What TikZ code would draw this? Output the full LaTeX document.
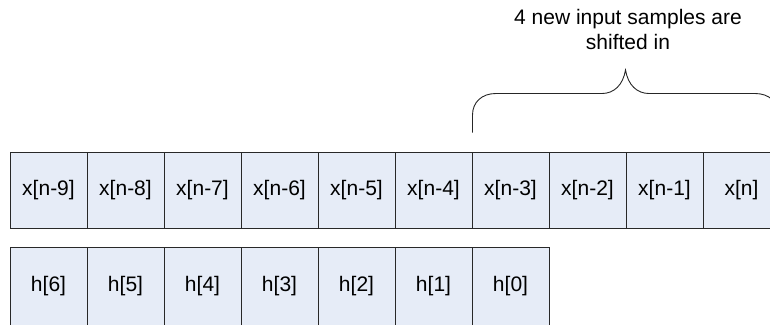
\documentclass[tikz,border=0pt]{standalone}
\usepackage{fontspec}
\setmainfont{Liberation Sans}
\definecolor{cellfill}{RGB}{230,236,247}
\definecolor{cellline}{RGB}{40,40,40}
\begin{document}
\begin{tikzpicture}[x=1bp,y=-1bp,
  cell/.style={draw=cellline,fill=cellfill,line width=0.9bp,minimum width=77bp,minimum height=76bp,inner sep=0pt,outer sep=0pt,font=\fontsize{21bp}{24bp}\selectfont},
  hcell/.style={cell,minimum height=78bp},
  bracepath/.style={draw=black!85,line width=0.9bp},
  caption/.style={align=center,font=\fontsize{21bp}{25bp}\selectfont,inner sep=0pt}]
\useasboundingbox (0,0) rectangle (770,324);
\clip (0,0) rectangle (770,324);
% top row
\foreach \lbl [count=\i from 0] in {x[n-9],x[n-8],x[n-7],x[n-6],x[n-5],x[n-4],x[n-3],x[n-2],x[n-1],x[n]}{
  \node[cell] (x\i) at ({48.5+77*\i},190) {\lbl};
}
% bottom row
\foreach \lbl [count=\i from 0] in {h[6],h[5],h[4],h[3],h[2],h[1],h[0]}{
  \node[hcell] (h\i) at ({48.5+77*\i},286) {\lbl};
}
% brace
\coordinate (bl) at (472.5,132.5);
\coordinate (br) at (778.5,132.5);
\coordinate (tip) at (625.5,70);
\draw[bracepath] (bl) -- (472.5,115) .. controls (472.5,102) and (482,93.5) .. (496,93.5)
  -- (602,93.5) .. controls (614,93.5) and (623,85) .. (tip)
  .. controls (628,85) and (637,93.5) .. (649,93.5)
  -- (755,93.5) .. controls (769,93.5) and (778.5,102) .. (778.5,115) -- (br);
\node[caption] (cap) at (628,29.5) {4 new input samples are\\shifted in};
\end{tikzpicture}
\end{document}
